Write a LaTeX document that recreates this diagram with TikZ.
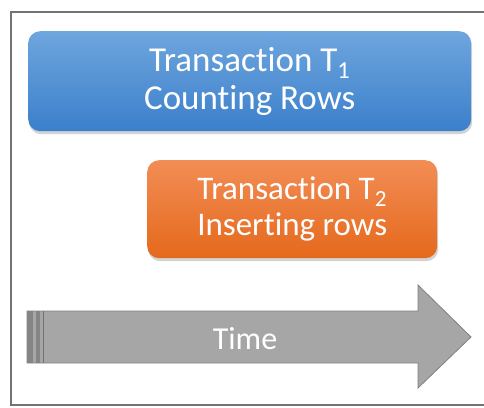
\documentclass[tikz,border=0pt]{standalone}
\usepackage{fontspec}
\setmainfont[Ligatures=NoCommon]{Carlito}
\usetikzlibrary{shadows}
\begin{document}
\begin{tikzpicture}[x=1pt,y=-1pt,
  frame/.style={draw=black!55,line width=2pt},
  tbox/.style={rounded corners=12pt,draw=none,text=white,align=center,
     drop shadow={shadow xshift=1pt,shadow yshift=-3pt,opacity=0.35}},
  arrowfill/.style={fill=black!35,draw=black!50,line width=0.8pt}]
\useasboundingbox (0,0) rectangle (484,407);
\definecolor{bluetop}{HTML}{6EA6DE}
\definecolor{bluebot}{HTML}{3B7FCB}
\definecolor{orangetop}{HTML}{F28D55}
\definecolor{orangebot}{HTML}{E5691C}
\draw[frame] (486,12) -- (11,12) -- (11,405) -- (486,405);
\node[tbox,font=\fontsize{35}{38}\selectfont,top color=bluetop,bottom color=bluebot,minimum width=443pt,minimum height=100pt,anchor=north west] (t1) at (28,31)
  {Transaction T\textsubscript{1}\\Counting Rows};
\node[tbox,font=\fontsize{33}{36}\selectfont,top color=orangetop,bottom color=orangebot,minimum width=290pt,minimum height=98pt,anchor=north west] (t2) at (147,160)
  {Transaction T\textsubscript{2}\\Inserting rows};
\coordinate (a1) at (27,311);
\coordinate (a2) at (418,311);
\coordinate (a3) at (418,285);
\coordinate (a4) at (471,337);
\coordinate (a5) at (418,388);
\coordinate (a6) at (418,363);
\coordinate (a7) at (27,363);
\path[arrowfill] (a1) -- (a2) -- (a3) -- (a4) -- (a5) -- (a6) -- (a7) -- cycle;
\fill[black!48] (27,311) rectangle (33,363);
\fill[black!48] (36,311) rectangle (40,363);
\draw[black!55,line width=0.8pt] (43,311) -- (43,363);
\node[text=white,font=\fontsize{32}{36}\selectfont] (time) at (245,339) {Time};
\end{tikzpicture}
\end{document}
